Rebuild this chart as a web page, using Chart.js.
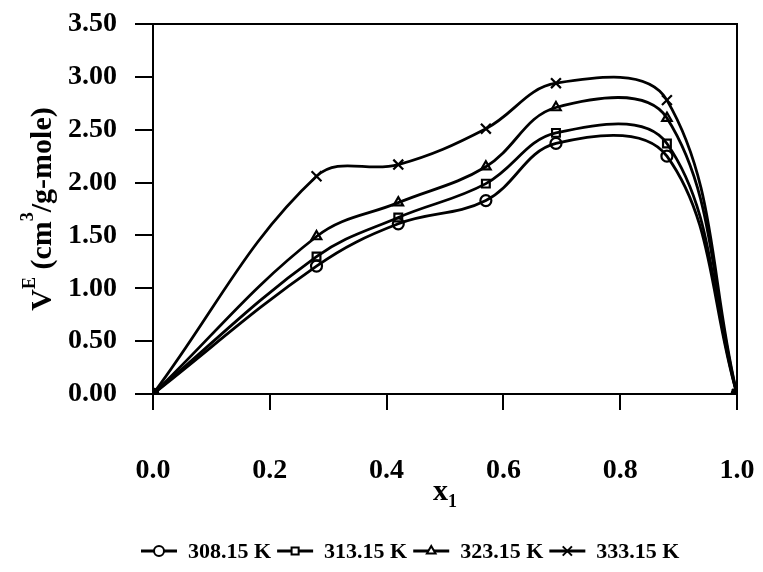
<!DOCTYPE html>
<html>
<head>
<meta charset="utf-8">
<script src="https://cdn.jsdelivr.net/npm/chart.js@4.4.1/dist/chart.umd.min.js"></script>
<style>
  html, body { margin: 0; padding: 0; background: #fff; }
  #wrap { width: 763px; height: 572px; position: relative; }
</style>
</head>
<body>
<div id="wrap"><canvas id="c" width="763" height="572"></canvas></div>
<script>
// ---- data ----
const x1Values = [0, 0.28, 0.42, 0.57, 0.69, 0.88, 1.0];
const seriesNames = ['308.15 K', '313.15 K', '323.15 K', '333.15 K'];
const v308 = [0, 1.21, 1.61, 1.83, 2.37, 2.25, 0];
const v313 = [0, 1.30, 1.67, 1.99, 2.47, 2.37, 0];
const v323 = [0, 1.49, 1.81, 2.15, 2.71, 2.61, 0];
const v333 = [0, 2.06, 2.17, 2.51, 2.94, 2.78, 0];
const yTickValues = [0, 0.5, 1.0, 1.5, 2.0, 2.5, 3.0, 3.5];
const xTickValues = [0, 0.2, 0.4, 0.6, 0.8, 1.0];

const seriesValues = [v308, v313, v323, v333];
const markerStyles = ['circle', 'rect', 'triangle', 'crossRot'];
const FONT = '"Liberation Serif", "Times New Roman", serif';

function toPoints(vals) { return vals.map((v, i) => ({ x: x1Values[i], y: v })); }

const datasets = seriesValues.map((vals, i) => ({
  label: seriesNames[i],
  data: toPoints(vals),
  borderColor: '#000',
  borderWidth: 2.8,
  tension: 0.38,
  pointStyle: markerStyles[i],
  pointRadius: markerStyles[i] === 'crossRot' ? 7 : 5.5,
  pointBorderWidth: 2.2,
  pointBorderColor: '#000',
  pointBackgroundColor: 'rgba(255,255,255,0)',
  fill: false
}));

const framePlugin = {
  id: 'frame',
  afterDraw(chart) {
    const { ctx, chartArea: a } = chart;
    ctx.save();
    ctx.strokeStyle = '#000';
    ctx.lineWidth = 2;
    ctx.strokeRect(a.left, a.top, a.right - a.left, a.bottom - a.top);
    ctx.restore();
  }
};

const titlesPlugin = {
  id: 'titles',
  afterDraw(chart) {
    const ctx = chart.ctx;
    ctx.save();
    ctx.fillStyle = '#000';
    const big = 'bold 30px ' + FONT, small = 'bold 18px ' + FONT;
    const parts = [
      { t: 'V', f: big, dy: 0 },
      { t: 'E', f: small, dy: -16 },
      { t: ' (cm', f: big, dy: 0 },
      { t: '3', f: small, dy: -18 },
      { t: '/g-mole)', f: big, dy: 0 }
    ];
    let total = 0;
    parts.forEach(p => { ctx.font = p.f; p.w = ctx.measureText(p.t).width; total += p.w; });
    ctx.translate(51, 209);
    ctx.rotate(-Math.PI / 2);
    ctx.textBaseline = 'alphabetic';
    ctx.textAlign = 'left';
    let x = -total / 2;
    parts.forEach(p => { ctx.font = p.f; ctx.fillText(p.t, x, p.dy); x += p.w; });
    ctx.restore();

    ctx.save();
    ctx.fillStyle = '#000';
    ctx.textBaseline = 'alphabetic';
    ctx.font = 'bold 30px ' + FONT;
    const wx = ctx.measureText('x').width;
    ctx.font = 'bold 18px ' + FONT;
    const w1 = ctx.measureText('1').width;
    const cx = (chart.chartArea.left + chart.chartArea.right) / 2;
    const sx = cx - (wx + w1) / 2;
    ctx.font = 'bold 30px ' + FONT;
    ctx.fillText('x', sx, 500);
    ctx.font = 'bold 18px ' + FONT;
    ctx.fillText('1', sx + wx, 507);
    ctx.restore();
  }
};

const legendPlugin = {
  id: 'customLegend',
  afterDraw(chart) {
    const ctx = chart.ctx;
    ctx.save();
    ctx.textBaseline = 'middle';
    const y = 551;
    let x = 141;
    chart.data.datasets.forEach((ds) => {
      ctx.strokeStyle = '#000';
      ctx.lineWidth = 2.8;
      ctx.beginPath();
      ctx.moveTo(x, y);
      ctx.lineTo(x + 36, y);
      ctx.stroke();
      ctx.lineWidth = 2;
      ctx.fillStyle = '#fff';
      Chart.helpers.drawPoint(ctx, {
        pointStyle: ds.pointStyle,
        radius: ds.pointStyle === 'crossRot' ? 6.5 : 5,
        rotation: 0,
        borderWidth: 2
      }, x + 18, y);
      ctx.fillStyle = '#000';
      ctx.font = 'bold 22px ' + FONT;
      const tx = x + 47;
      ctx.fillText(ds.label, tx, y + 1);
      x = tx + ctx.measureText(ds.label).width + 6;
    });
    ctx.restore();
  }
};

new Chart(document.getElementById('c'), {
  type: 'line',
  data: { datasets },
  options: {
    responsive: false,
    animation: false,
    devicePixelRatio: 1,
    layout: { padding: { left: 0, right: 26, top: 24, bottom: 0 } },
    plugins: { legend: { display: false }, tooltip: { enabled: false } },
    scales: {
      x: {
        type: 'linear',
        min: 0, max: 1,
        afterBuildTicks(scale) { scale.ticks = xTickValues.map(v => ({ value: v })); },
        afterFit(scale) { scale.height = 572 - 394; scale.paddingLeft = 0; scale.paddingRight = 0; },
        ticks: {
          callback: v => Number(v).toFixed(1),
          font: { family: FONT, size: 28, weight: 'bold' },
          color: '#000',
          padding: 44,
          maxRotation: 0
        },
        grid: { drawOnChartArea: false, drawTicks: true, tickLength: 16, color: '#000', lineWidth: 2 },
        border: { display: true, color: '#000', width: 2 }
      },
      y: {
        min: 0, max: 3.5,
        afterBuildTicks(scale) { scale.ticks = yTickValues.map(v => ({ value: v })); },
        afterFit(scale) { scale.width = 153; scale.paddingTop = 0; scale.paddingBottom = 0; },
        ticks: {
          callback: v => Number(v).toFixed(2),
          font: { family: FONT, size: 28, weight: 'bold' },
          color: '#000',
          padding: 18
        },
        grid: { drawOnChartArea: false, drawTicks: true, tickLength: 18, color: '#000', lineWidth: 2 },
        border: { display: true, color: '#000', width: 2 }
      }
    }
  },
  plugins: [framePlugin, titlesPlugin, legendPlugin]
});
</script>
</body>
</html>
